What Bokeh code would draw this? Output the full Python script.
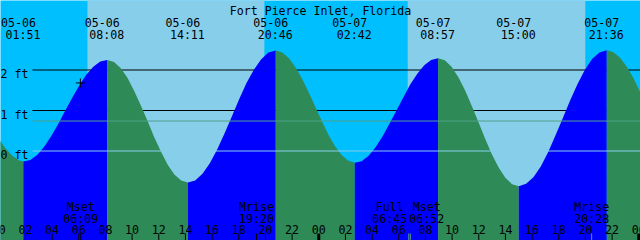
from bokeh.plotting import figure
from bokeh.models import Range1d, ColumnDataSource
from bokeh.core.properties import value
from bokeh.embed import file_html
from bokeh.resources import INLINE

# ---------------- data ----------------
title = "Fort Pierce Inlet, Florida"
day_names = ["05-06", "05-07"]

# tide level (ft), hours since 05-06 00:00
tide_hours = [0.00, 0.50, 1.00, 1.50, 1.85,
              2.37, 2.90, 3.42, 3.94, 4.47, 4.99, 5.52, 6.04, 6.56, 7.09, 7.61, 8.13,
              8.64, 9.14, 9.65, 10.15, 10.65, 11.16, 11.66, 12.17, 12.67, 13.17, 13.68, 14.18,
              14.73, 15.28, 15.83, 16.38, 16.93, 17.48, 18.02, 18.57, 19.12, 19.67, 20.22, 20.77,
              21.26, 21.76, 22.25, 22.74, 23.24, 23.73, 24.23, 24.72, 25.22, 25.71, 26.21, 26.70,
              27.22, 27.74, 28.26, 28.78, 29.30, 29.83, 30.35, 30.87, 31.39, 31.91, 32.43, 32.95,
              33.45, 33.96, 34.46, 34.97, 35.47, 35.98, 36.48, 36.98, 37.49, 37.99, 38.50, 39.00,
              39.55, 40.10, 40.65, 41.20, 41.75, 42.30, 42.85, 43.40, 43.95, 44.50, 45.05, 45.60,
              46.10, 46.60, 47.10, 47.60, 48.10, 48.60]
tide_feet = [0.30, 0.07, -0.11, -0.23, -0.26,
             -0.22, -0.09, 0.11, 0.37, 0.67, 1.00, 1.32, 1.62, 1.88, 2.08, 2.21, 2.25,
             2.20, 2.05, 1.81, 1.49, 1.13, 0.74, 0.34, -0.02, -0.34, -0.58, -0.73, -0.78,
             -0.73, -0.56, -0.30, 0.04, 0.43, 0.85, 1.27, 1.67, 2.00, 2.26, 2.43, 2.48,
             2.43, 2.29, 2.07, 1.79, 1.45, 1.10, 0.74, 0.40, 0.12, -0.10, -0.24, -0.29,
             -0.25, -0.12, 0.09, 0.36, 0.67, 1.00, 1.33, 1.65, 1.91, 2.12, 2.25, 2.29,
             2.24, 2.08, 1.83, 1.50, 1.12, 0.71, 0.30, -0.08, -0.41, -0.66, -0.82, -0.87,
             -0.81, -0.65, -0.38, -0.03, 0.38, 0.81, 1.25, 1.65, 2.00, 2.27, 2.43, 2.49,
             2.44, 2.30, 2.08, 1.80, 1.46, 1.10]

extreme_dates = ["05-06", "05-06", "05-06", "05-06", "05-07", "05-07", "05-07", "05-07"]
extreme_clock = ["01:51", "08:08", "14:11", "20:46", "02:42", "08:57", "15:00", "21:36"]

sunrise_hours = [6.65, 30.67]
sunset_hours = [19.92, 43.99]

moon_dates = ["05-06", "05-06", "05-07", "05-07", "05-07"]
moon_names = ["Mset", "Mrise", "Full", "Mset", "Mrise"]
moon_clock = ["06:09", "19:20", "06:45", "06:52", "20:28"]

level_ticks = [0, 1, 2]
level_labels = ["0 ft", "1 ft", "2 ft"]
mean_level = [0.74]

now_hour = [6.12]
now_feet = [1.68]

hour_ticks = list(range(0, 50, 2))
hour_labels = ["%02d" % (h % 24) for h in hour_ticks]

# ---------------- style ----------------
W, H = 640, 240
H0 = 0.13            # left edge, hours
PX_PER_FT = 40.5
ZERO_PX = 150.5
NIGHT = "#00BFFF"
DAY = "#87CEEB"
FLOOD = "#0000FF"
EBB = "#2E8B57"
DATUM = "#87CEEB"
MSL = "#50A08C"
FONT = value("DejaVu Sans Mono")
FS = "11.6px"
moon_nudge = [0, 0, -19, 16.5, 0]
moon_tick_colors = ["black", "black", MSL, MSL, MSL]


def to_hours(date, clock):
    hh, mm = clock.split(":")
    return day_names.index(date) * 24 + int(hh) + int(mm) / 60.0


p = figure(width=W, height=H,
           x_range=Range1d(H0, H0 + 48),
           y_range=Range1d((ZERO_PX - H) / PX_PER_FT, ZERO_PX / PX_PER_FT),
           x_axis_location=None, y_axis_location=None,
           output_backend="svg", toolbar_location=None, min_border=0)
p.extra_x_ranges = {"px": Range1d(0, W)}
p.extra_y_ranges = {"px": Range1d(H, 0)}
p.grid.visible = False
p.outline_line_color = None
p.background_fill_color = NIGHT
p.border_fill_color = NIGHT

ybot = p.y_range.start - 1
ytop = p.y_range.end + 1

# day light bands
p.quad(left=sunrise_hours, right=sunset_hours, bottom=ybot, top=ytop,
       fill_color=DAY, line_color=None)

# foot lines behind the water
for lev in level_ticks:
    if lev != 0:
        p.segment(x0=[32], x1=[W], y0=[lev], y1=[lev], x_range_name="px",
                  line_color="black", line_width=1)

# water, split at the turning points
segs = []
start = 0
for i in range(1, len(tide_feet) - 1):
    a, b, c = tide_feet[i - 1], tide_feet[i], tide_feet[i + 1]
    if (b >= a and b >= c) or (b <= a and b <= c):
        segs.append((start, i))
        start = i
segs.append((start, len(tide_feet) - 1))
for s, e in segs:
    xs = tide_hours[s:e + 1]
    ys = tide_feet[s:e + 1]
    col = FLOOD if ys[-1] > ys[0] else EBB
    p.varea(x=xs, y1=[ybot] * len(xs), y2=ys, fill_color=col)

# datum and mean lines over the water
p.segment(x0=[32], x1=[W], y0=[0], y1=[0], x_range_name="px",
          line_color=DATUM, line_width=1)
p.segment(x0=[32], x1=[W], y0=mean_level, y1=mean_level, x_range_name="px",
          line_color=MSL, line_width=1)

# present-time mark
p.scatter(now_hour, now_feet, marker="cross", size=9, line_color="black", line_width=1)

# hour ticks
norm = [h for h in hour_ticks if h % 24 != 0]
mid = [h for h in hour_ticks if h % 24 == 0]
p.segment(x0=norm, x1=norm, y0=[233] * len(norm), y1=[241] * len(norm),
          y_range_name="px", line_color="black", line_width=1)
p.segment(x0=mid, x1=mid, y0=[233] * len(mid), y1=[241] * len(mid),
          y_range_name="px", line_color="black", line_width=3)

# moon ticks
moon_hours = [to_hours(d, c) for d, c in zip(moon_dates, moon_clock)]
p.segment(x0=moon_hours, x1=moon_hours, y0=[233] * len(moon_hours), y1=[241] * len(moon_hours),
          y_range_name="px", line_color=moon_tick_colors, line_width=1)

tkw = dict(text_font=FONT, text_font_size=FS, text_color="black",
           text_baseline="alphabetic")

# title
p.text(x=[W / 2], y=[10], text=[title], x_range_name="px", y_range_name="px",
       text_align="center", **tkw)

# extreme labels
ext_hours = [to_hours(d, c) for d, c in zip(extreme_dates, extreme_clock)]
p.text(x=ext_hours, y=[21.7] * len(ext_hours), text=extreme_dates, y_range_name="px",
       text_align="center", x_offset=-5, **tkw)
p.text(x=ext_hours, y=[34] * len(ext_hours), text=extreme_clock, y_range_name="px",
       text_align="center", x_offset=-0.5, **tkw)

# level labels
p.text(x=[0] * len(level_ticks), y=level_ticks, text=level_labels, x_range_name="px",
       text_align="left", y_offset=4.2, **tkw)

# moon labels
p.text(x=moon_hours, y=[206.5] * len(moon_hours), text=moon_names, y_range_name="px",
       text_align="center", x_offset=moon_nudge, **tkw)
p.text(x=moon_hours, y=[218] * len(moon_hours), text=moon_clock, y_range_name="px",
       text_align="center", x_offset=moon_nudge, **tkw)

# hour labels
p.text(x=hour_ticks, y=[229] * len(hour_ticks), text=hour_labels, y_range_name="px",
       text_align="center", **tkw)

open("out.html", "w").write(file_html(p, INLINE))
